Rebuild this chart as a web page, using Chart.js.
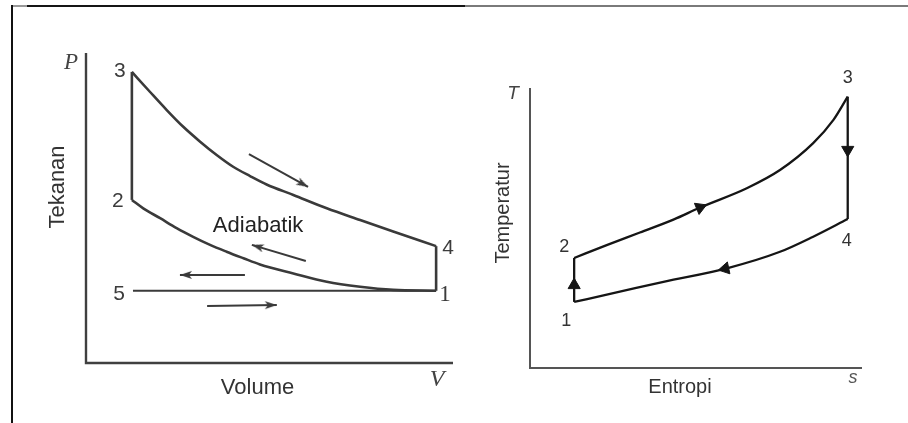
<!DOCTYPE html>
<html>
<head>
<meta charset="utf-8">
<script src="https://cdn.jsdelivr.net/npm/chart.js@4/dist/chart.umd.min.js"></script>
<style>
  body { margin: 0; background: #fff; width: 908px; height: 423px; overflow: hidden; position: relative; }
  .rule { position: absolute; }
  #pv { position: absolute; left: 0; top: 0; }
  #ts { position: absolute; left: 470px; top: 0; }
</style>
</head>
<body>
<div class="rule" style="left:11px;top:5px;width:2px;height:418px;background:#111"></div>
<div class="rule" style="left:13px;top:5px;width:14px;height:2px;background:#999"></div>
<div class="rule" style="left:27px;top:5px;width:438px;height:2px;background:#151515"></div>
<div class="rule" style="left:465px;top:5px;width:443px;height:2px;background:#7a7a7a"></div>
<canvas id="pv" width="470" height="423"></canvas>
<canvas id="ts" width="438" height="423"></canvas>
<script>
// ---- P-V diagram (arbitrary units) ----
const pvStates = ['1', '2', '3', '4', '5'];
const pvStateV = [9.54, 1.25, 1.25, 9.54, 1.28];
const pvStateP = [2.33, 5.26, 9.39, 3.77, 2.33];

// adiabatic expansion 3 -> 4
const pvExpV = [1.25, 1.74, 2.20, 2.65, 3.11, 3.56, 4.01, 4.47, 4.92, 5.65, 6.56, 7.47, 8.37, 9.54];
const pvExpP = [9.39, 8.75, 8.16, 7.62, 7.14, 6.71, 6.33, 6.03, 5.76, 5.42, 4.99, 4.61, 4.24, 3.77];

// adiabatic compression 1 -> 2
const pvCompV = [1.25, 1.56, 2.02, 2.47, 2.92, 3.38, 3.83, 4.29, 4.74, 5.65, 6.56, 7.47, 8.37, 9.54];
const pvCompP = [5.26, 4.99, 4.67, 4.35, 4.07, 3.81, 3.59, 3.38, 3.18, 2.89, 2.62, 2.46, 2.36, 2.33];

// direction arrows (tail -> head)
const pvArrowFromV = [4.44, 5.99, 4.33, 3.30];
const pvArrowFromP = [6.74, 3.29, 2.84, 1.84];
const pvArrowToV = [6.05, 4.52, 2.56, 5.20];
const pvArrowToP = [5.68, 3.81, 2.84, 1.87];

// ---- T-s diagram (arbitrary units) ----
const tsStates = ['1', '2', '3', '4'];
const tsStateS = [1.33, 1.33, 9.57, 9.57];
const tsStateT = [2.36, 3.93, 9.69, 5.32];

// heat addition 2 -> 3
const tsHeatS = [1.33, 2.31, 3.31, 4.32, 5.12, 6.53, 7.53, 8.53, 9.14, 9.57];
const tsHeatT = [3.93, 4.39, 4.84, 5.30, 5.73, 6.42, 7.07, 8.03, 8.86, 9.69];

// heat rejection 4 -> 1
const tsRejectS = [1.33, 2.51, 4.02, 5.93, 7.53, 8.53, 9.57];
const tsRejectT = [2.36, 2.67, 3.08, 3.56, 4.15, 4.69, 5.32];

// arrow markers and the point each one is heading to
const tsArrowS = [1.33, 5.12, 9.57, 5.88];
const tsArrowT = [2.96, 5.73, 7.79, 3.55];
const tsArrowAimS = [1.33, 6.53, 9.57, 4.02];
const tsArrowAimT = [3.93, 6.42, 5.32, 3.08];

const xy = (xs, ys) => xs.map((x, i) => ({ x, y: ys[i] }));
const pick = (xs, ys, idx) => idx.map(i => ({ x: xs[i], y: ys[i] }));

function heading(chart, x1, y1, x2, y2) {
    const sx = chart.scales.x, sy = chart.scales.y;
    const dx = sx.getPixelForValue(x2) - sx.getPixelForValue(x1);
    const dy = sy.getPixelForValue(y2) - sy.getPixelForValue(y1);
    return Math.atan2(dy, dx) * 180 / Math.PI;
}

// narrow arrow head, tip in the middle of the image, pointing right
function makeHead(len, half, color) {
    const c = document.createElement('canvas');
    c.width = len * 2;
    c.height = half * 2 + 2;
    const g = c.getContext('2d');
    const cy = c.height / 2;
    g.fillStyle = color;
    g.beginPath();
    g.moveTo(len, cy);
    g.lineTo(0, cy - half);
    g.lineTo(3, cy);
    g.lineTo(0, cy + half);
    g.closePath();
    g.fill();
    return c;
}

function anchorPoint(chart, item) {
    const a = chart.chartArea;
    if (item.data) {
        return [chart.scales.x.getPixelForValue(item.data[0]), chart.scales.y.getPixelForValue(item.data[1])];
    }
    const midX = (a.left + a.right) / 2, midY = (a.top + a.bottom) / 2;
    return {
        topLeft: [a.left, a.top],
        bottomRight: [a.right, a.bottom],
        left: [a.left, midY],
        bottom: [midX, a.bottom]
    }[item.anchor];
}

const diagramDecor = {
    id: 'diagramDecor',
    beforeDatasetsDraw(chart, args, opts) {
        const sx = chart.scales.x, sy = chart.scales.y;
        const ctx = chart.ctx;
        const x0 = sx.getPixelForValue(sx.min), y0 = sy.getPixelForValue(sy.min);
        ctx.save();
        ctx.strokeStyle = opts.axisColor;
        ctx.lineWidth = opts.axisWidth;
        ctx.beginPath();
        ctx.moveTo(x0, sy.getPixelForValue(sy.max));
        ctx.lineTo(x0, y0);
        ctx.lineTo(sx.getPixelForValue(sx.max), y0);
        ctx.stroke();
        ctx.restore();
    },
    afterDraw(chart, args, opts) {
        const ctx = chart.ctx;
        ctx.save();
        ctx.textAlign = 'center';
        ctx.textBaseline = 'middle';
        opts.texts.forEach(item => {
            const [px, py] = anchorPoint(chart, item);
            ctx.save();
            ctx.translate(px + (item.dx || 0), py + (item.dy || 0));
            if (item.rotate) ctx.rotate(item.rotate * Math.PI / 180);
            ctx.font = item.font;
            ctx.fillStyle = item.color;
            ctx.fillText(item.text, 0, 0);
            ctx.restore();
        });
        ctx.restore();
    }
};

const baseOptions = (padding, decor) => ({
    responsive: false,
    animation: false,
    devicePixelRatio: 1,
    layout: { padding },
    plugins: { legend: { display: false }, tooltip: { enabled: false }, diagramDecor: decor },
    scales: {
        x: { type: 'linear', min: 0, max: 10, display: false },
        y: { type: 'linear', min: 0, max: 10, display: false }
    }
});

// ---------- P-V ----------
const pvLine = '#3a3a3a';
const pvHead = makeHead(12, 4, pvLine);
const curve = (data, color, width) => ({
    data, showLine: true, borderColor: color, borderWidth: width,
    pointRadius: 0, cubicInterpolationMode: 'monotone', clip: false
});
const pvArrows = pvArrowFromV.map((v, i) => ({
    data: [{ x: v, y: pvArrowFromP[i] }, { x: pvArrowToV[i], y: pvArrowToP[i] }],
    showLine: true, borderColor: pvLine, borderWidth: 2, clip: false,
    pointRadius: c => c.dataIndex === 1 ? 3 : 0,
    pointStyle: c => c.dataIndex === 1 ? pvHead : 'circle',
    pointRotation: c => heading(c.chart, v, pvArrowFromP[i], pvArrowToV[i], pvArrowToP[i])
}));

const pvFont = '21px "Liberation Sans", Arial, sans-serif';
const pvTitle = '22px "Liberation Sans", Arial, sans-serif';
const pvOffsets = [[9, 4], [-14, 1], [-12, -1], [12, 2], [-14, 3]];
const pvTexts = pvStates.map((s, i) => ({
    text: s, data: [pvStateV[i], pvStateP[i]], dx: pvOffsets[i][0], dy: pvOffsets[i][1],
    font: i === 0 ? '23px "Liberation Serif", serif' : pvFont, color: '#3c3c3c'
})).concat([
    { text: 'Adiabatik', data: [4.69, 4.42], font: pvTitle, color: '#222' },
    { text: 'P', anchor: 'topLeft', dx: -15, dy: 10, font: 'italic 23px "Liberation Serif", serif', color: '#444' },
    { text: 'V', anchor: 'bottomRight', dx: -16, dy: 17, font: 'italic 24px "Liberation Serif", serif', color: '#444' },
    { text: 'Tekanan', anchor: 'left', dx: -28, dy: -21, rotate: -90, font: pvTitle, color: '#333' },
    { text: 'Volume', anchor: 'bottom', dx: -12, dy: 25, font: pvTitle, color: '#333' }
]);

new Chart(document.getElementById('pv'), {
    type: 'scatter',
    data: {
        datasets: [
            curve(xy(pvExpV, pvExpP), pvLine, 2.6),
            curve(xy(pvCompV, pvCompP), pvLine, 2.6),
            curve(pick(pvStateV, pvStateP, [1, 2]), pvLine, 2.6),
            curve(pick(pvStateV, pvStateP, [3, 0]), pvLine, 2.6),
            curve(pick(pvStateV, pvStateP, [4, 0]), pvLine, 2)
        ].concat(pvArrows)
    },
    options: baseOptions({ left: 86, right: 17, top: 53, bottom: 60 },
        { axisColor: '#404040', axisWidth: 2.4, texts: pvTexts }),
    plugins: [diagramDecor]
});

// ---------- T-s ----------
const tsLine = '#151515';
const tsFont = '18px "Liberation Sans", Arial, sans-serif';
const tsTitle = '20px "Liberation Sans", Arial, sans-serif';
const tsOffsets = [[-8, 19], [-10, -11], [0, -19], [-1, 22]];
const tsTexts = tsStates.map((s, i) => ({
    text: s, data: [tsStateS[i], tsStateT[i]], dx: tsOffsets[i][0], dy: tsOffsets[i][1],
    font: tsFont, color: '#333'
})).concat([
    { text: 'T', anchor: 'topLeft', dx: -17, dy: 6, font: 'italic 19px "Liberation Sans", Arial, sans-serif', color: '#444' },
    { text: 's', anchor: 'bottomRight', dx: -9, dy: 10, font: 'italic 18px "Liberation Sans", Arial, sans-serif', color: '#555' },
    { text: 'Temperatur', anchor: 'left', dx: -27, dy: -15, rotate: -90, font: tsTitle, color: '#333' },
    { text: 'Entropi', anchor: 'bottom', dx: -16, dy: 19, font: tsTitle, color: '#333' }
]);

new Chart(document.getElementById('ts'), {
    type: 'scatter',
    data: {
        datasets: [
            curve(xy(tsHeatS, tsHeatT), tsLine, 2.3),
            curve(xy(tsRejectS, tsRejectT), tsLine, 2.3),
            curve(pick(tsStateS, tsStateT, [0, 1]), tsLine, 2.3),
            curve(pick(tsStateS, tsStateT, [2, 3]), tsLine, 2.3),
            {
                data: xy(tsArrowS, tsArrowT),
                showLine: false, clip: false,
                pointStyle: 'triangle', pointRadius: 7,
                backgroundColor: tsLine, borderColor: tsLine, borderWidth: 1,
                pointRotation: c => heading(c.chart, tsArrowS[c.dataIndex], tsArrowT[c.dataIndex],
                    tsArrowAimS[c.dataIndex], tsArrowAimT[c.dataIndex]) + 90
            }
        ]
    },
    options: baseOptions({ left: 60, right: 46, top: 88, bottom: 55 },
        { axisColor: '#555', axisWidth: 2, texts: tsTexts }),
    plugins: [diagramDecor]
});
</script>
</body>
</html>
